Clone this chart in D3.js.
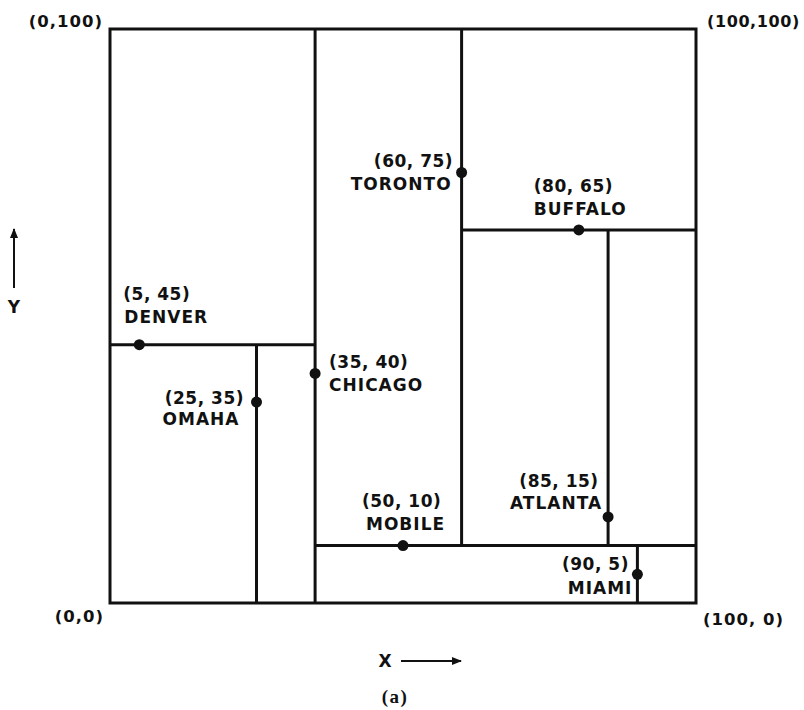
<!DOCTYPE html>
<html>
<head>
<meta charset="utf-8">
<script src="https://cdn.jsdelivr.net/npm/d3@7"></script>
<style>
  body { margin: 0; background: #fff; }
  svg text { font-family: "DejaVu Sans", sans-serif; font-weight: bold; fill: #111; }
</style>
</head>
<body>
<svg id="chart" width="804" height="710"></svg>
<script>
// cities and their coordinates
var cities = ['DENVER', 'OMAHA', 'CHICAGO', 'TORONTO', 'BUFFALO', 'ATLANTA', 'MOBILE', 'MIAMI'];
var xs = [5, 25, 35, 60, 80, 85, 50, 90];
var ys = [45, 35, 40, 75, 65, 15, 10, 5];

// partition lines [x1, y1, x2, y2]
var splits = [
  [35, 0, 35, 100],   // chicago
  [0, 45, 35, 45],    // denver
  [25, 0, 25, 45],    // omaha
  [35, 10, 100, 10],  // mobile
  [60, 10, 60, 100],  // toronto
  [60, 65, 100, 65],  // buffalo
  [85, 10, 85, 65],   // atlanta
  [90, 0, 90, 10]     // miami
];

var corners = [[0, 100], [100, 100], [0, 0], [100, 0]];
var cornerText = ['(0,100)', '(100,100)', '(0,0)', '(100, 0)'];

// label placement relative to the dot: [dx coord, dy coord, dx name, dy name, anchor]
var place = {
  DENVER: [-16, -45, -15, -22, 'start'],
  OMAHA: [-13, 2, -18, 23, 'end'],
  CHICAGO: [14, -5, 14, 18, 'start'],
  TORONTO: [-9, -6, -11, 17, 'end'],
  BUFFALO: [-45, -38, -45, -15, 'start'],
  ATLANTA: [-10, -30, -7, -8, 'end'],
  MOBILE: [-41, -39, -37, -16, 'start'],
  MIAMI: [-9, -4, -6, 20, 'end']
};
var cornerPlace = [[-7, -2, 'end', 1], [11, -2, 'start', 0.6], [-6, 19, 'end', 1], [7, 22, 'start', 1]];

var svg = d3.select('#chart');

var x = d3.scaleLinear().domain([0, 100]).range([110, 696]);
var y = d3.scaleLinear().domain([0, 100]).range([603, 29]);

var fmt = (a, b) => '(' + a + ', ' + b + ')';

// outer box
svg.append('rect')
  .attr('x', x(0))
  .attr('y', y(100))
  .attr('width', x(100) - x(0))
  .attr('height', y(0) - y(100))
  .attr('fill', 'none')
  .attr('stroke', '#111')
  .attr('stroke-width', 3);

svg.selectAll('.split')
  .data(splits)
  .enter().append('line')
  .attr('class', 'split')
  .attr('x1', d => x(d[0]))
  .attr('y1', d => y(d[1]))
  .attr('x2', d => x(d[2]))
  .attr('y2', d => y(d[3]))
  .attr('stroke', '#111')
  .attr('stroke-width', 3);

svg.selectAll('.dot')
  .data(cities)
  .enter().append('circle')
  .attr('class', 'dot')
  .attr('cx', (d, i) => x(xs[i]))
  .attr('cy', (d, i) => y(ys[i]))
  .attr('r', 5.5)
  .attr('fill', '#111');

var labels = svg.selectAll('.lab')
  .data(cities)
  .enter().append('g')
  .attr('class', 'lab')
  .attr('transform', (d, i) => 'translate(' + x(xs[i]) + ',' + y(ys[i]) + ')');

labels.append('text')
  .attr('text-anchor', d => place[d][4])
  .attr('font-size', 17)
  .attr('letter-spacing', 0.5)
  .attr('x', d => place[d][0] + (place[d][4] == 'end' ? 0.5 : 0))
  .attr('y', d => place[d][1])
  .text((d, i) => fmt(xs[i], ys[i]));

labels.append('text')
  .attr('text-anchor', d => place[d][4])
  .attr('font-size', 17)
  .attr('letter-spacing', 1)
  .attr('x', d => place[d][2] + (place[d][4] == 'end' ? 1 : 0))
  .attr('y', d => place[d][3])
  .text(d => d);

svg.selectAll('.corner')
  .data(corners)
  .enter().append('text')
  .attr('class', 'corner')
  .attr('x', (d, i) => x(d[0]) + cornerPlace[i][0])
  .attr('y', (d, i) => y(d[1]) + cornerPlace[i][1])
  .attr('text-anchor', (d, i) => cornerPlace[i][2])
  .attr('font-size', (d, i) => i == 1 ? 16 : 16.5)
  .attr('letter-spacing', (d, i) => cornerPlace[i][3])
  .text((d, i) => cornerText[i]);

// axis arrows
svg.append('defs').append('marker')
  .attr('id', 'head')
  .attr('viewBox', '0 0 10 10')
  .attr('refX', 9).attr('refY', 5)
  .attr('markerWidth', 5).attr('markerHeight', 5)
  .attr('orient', 'auto')
  .append('path').attr('d', 'M0,1 L10,5 L0,9 Z').attr('fill', '#111');

svg.append('line')
  .attr('x1', 14).attr('y1', 288).attr('x2', 14).attr('y2', 229)
  .attr('stroke', '#111').attr('stroke-width', 2)
  .attr('marker-end', 'url(#head)');
svg.append('text').attr('x', 14).attr('y', 313).attr('text-anchor', 'middle')
  .attr('font-size', 17).text('Y');

svg.append('line')
  .attr('x1', 401).attr('y1', 661).attr('x2', 461).attr('y2', 661)
  .attr('stroke', '#111').attr('stroke-width', 2)
  .attr('marker-end', 'url(#head)');
svg.append('text').attr('x', 385).attr('y', 667).attr('text-anchor', 'middle')
  .attr('font-size', 17).text('X');

svg.append('text').attr('x', 395).attr('y', 703).attr('text-anchor', 'middle')
  .style('font-family', '"Liberation Serif", serif')
  .attr('letter-spacing', 1.5)
  .attr('font-size', 19).text('(a)');
</script>
</body>
</html>
